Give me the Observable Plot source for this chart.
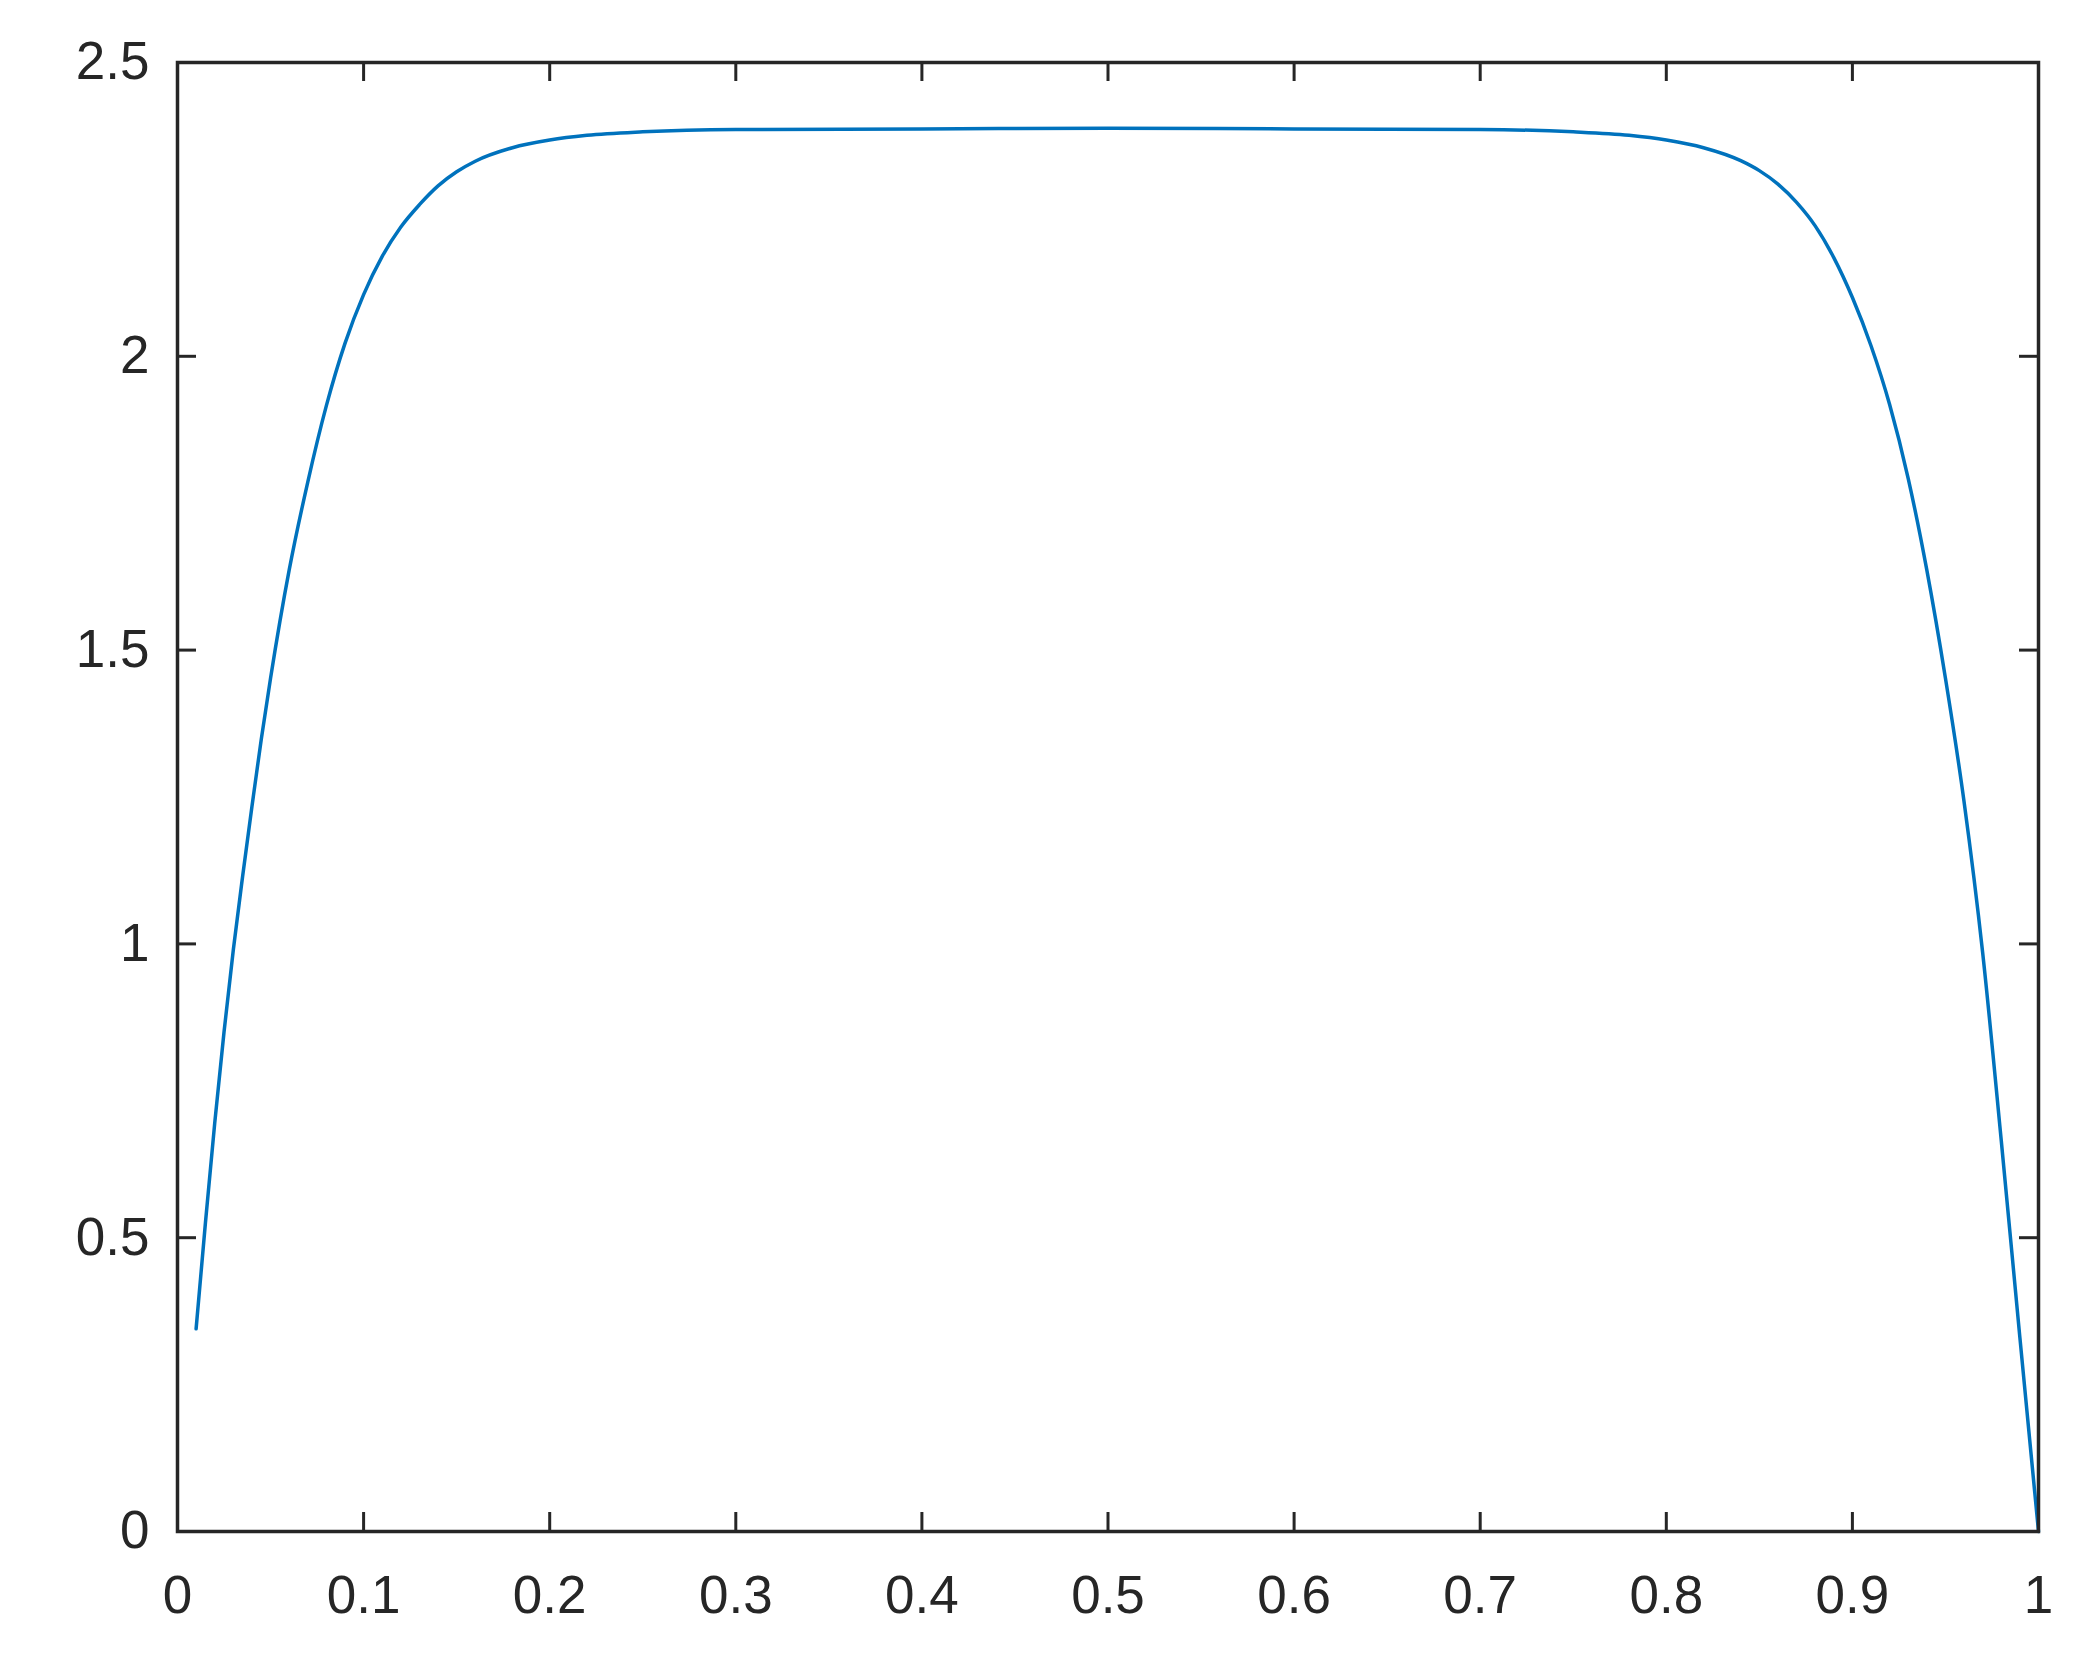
<!DOCTYPE html>
<html>
<head>
<meta charset="utf-8">
<script src="https://cdn.jsdelivr.net/npm/d3@7"></script>
<script src="https://cdn.jsdelivr.net/npm/@observablehq/plot@0.6"></script>
<style>
  html, body { margin: 0; padding: 0; background: #fff; }
  #chart svg { display: block; }
</style>
</head>
<body>
<div id="chart"></div>
<script>
const xValues = [0.01, 0.015, 0.02, 0.025, 0.03, 0.035, 0.04, 0.045, 0.05, 0.06, 0.07, 0.08, 0.09, 0.10,
  0.11, 0.12, 0.13, 0.14, 0.15, 0.16, 0.18, 0.20, 0.22, 0.25, 0.30, 0.40, 0.50, 0.60, 0.70, 0.75,
  0.78, 0.80, 0.82, 0.84, 0.85, 0.86, 0.87, 0.88, 0.89, 0.90, 0.91, 0.92, 0.93, 0.94, 0.95, 0.96,
  0.97, 0.98, 0.99, 1.00];
const yValues = [0.345, 0.525, 0.695, 0.85, 0.99, 1.115, 1.234, 1.348, 1.452, 1.636, 1.786, 1.916, 2.022, 2.105,
  2.17, 2.22, 2.258, 2.29, 2.314, 2.332, 2.355, 2.368, 2.376, 2.382, 2.386, 2.387, 2.388, 2.387, 2.386, 2.382,
  2.376, 2.368, 2.355, 2.333, 2.316, 2.293, 2.262, 2.222, 2.168, 2.1, 2.018, 1.918, 1.792, 1.636, 1.452, 1.242,
  0.985, 0.665, 0.33, 0.0];
const xTicks = [0, 0.1, 0.2, 0.3, 0.4, 0.5, 0.6, 0.7, 0.8, 0.9, 1];
const yTicks = [0, 0.5, 1, 1.5, 2, 2.5];

const data = xValues.map((x, i) => ({x, y: yValues[i]}));

const W = 2086, H = 1659;
const mL = 177, mR = 48, mT = 62, mB = 128;
const innerH = H - mT - mB;
const innerW = W - mL - mR;
const tickLen = 19;
const ink = "#262626";

const chart = Plot.plot({
  width: W,
  height: H,
  marginLeft: mL,
  marginRight: mR,
  marginTop: mT,
  marginBottom: mB,
  style: {fontFamily: "'Liberation Sans', Arial, Helvetica, sans-serif", fontSize: "53px", color: ink, background: "#fff"},
  x: {domain: [0, 1]},
  y: {domain: [0, 2.5]},
  marks: [
    Plot.tickX(xTicks, {x: d => d, insetTop: innerH - tickLen, stroke: ink, strokeWidth: 3}),
    Plot.tickX(xTicks, {x: d => d, insetBottom: innerH - tickLen, stroke: ink, strokeWidth: 3}),
    Plot.tickY(yTicks, {y: d => d, insetRight: innerW - tickLen, stroke: ink, strokeWidth: 3}),
    Plot.tickY(yTicks, {y: d => d, insetLeft: innerW - tickLen, stroke: ink, strokeWidth: 3}),
    Plot.line(data, {x: "x", y: "y", stroke: "#0072BD", strokeWidth: 3.5, curve: "monotone-x"}),
    Plot.frame({stroke: ink, strokeWidth: 3.5}),
    Plot.axisX({ticks: xTicks, tickSize: 0, tickPadding: 44, tickFormat: d => String(d), fill: ink, fontSize: 53, label: null}),
    Plot.axisY({ticks: yTicks, tickSize: 0, tickPadding: 28, tickFormat: d => String(d), fill: ink, fontSize: 53, label: null})
  ]
});
document.getElementById("chart").appendChild(chart);
</script>
</body>
</html>
